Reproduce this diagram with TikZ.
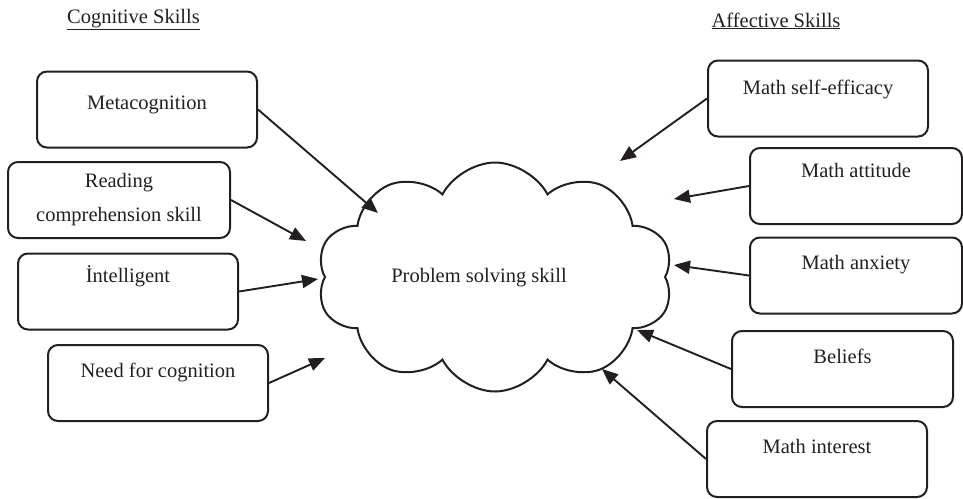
\documentclass[tikz,border=0pt]{standalone}
\usepackage{fontspec}
\setmainfont{Liberation Serif}
\usetikzlibrary{arrows.meta,shapes.symbols}
\definecolor{ink}{HTML}{231F20}
\tikzset{box/.style={draw=ink,line width=2pt,rounded corners=10pt,align=center,
  minimum width=220pt,minimum height=76pt,font=\fontsize{20.5}{24}\selectfont,
  text=ink,inner sep=2pt},
  oneline/.style={text height=15pt,text depth=27pt},
  head/.style={font=\fontsize{20.5}{24}\selectfont,text=ink,anchor=base},
  arrow/.style={-{Triangle[length=16pt,width=13pt]},line width=1.9pt,draw=ink}}

\begin{document}
\begin{tikzpicture}[x=1pt,y=-1pt]
\useasboundingbox (0,0) rectangle (963,498);
\node[head] (cog) at (133.5,23) {\underline{Cognitive Skills}};
\node[head] (aff) at (776,27) {\underline{Affective Skills}};
% the cloud in the middle
\node[cloud,draw=ink,line width=2pt,cloud puffs=10,cloud puff arc=125,
  minimum width=356pt,minimum height=229pt,inner sep=0pt] (cloud) at (495,277) {};
\node[head] (pss) at (479,282) {Problem solving skill};
% cognitive side
\node[box,oneline,text depth=16pt] (meta) at (147,109.5) {Metacognition};
\node[box,minimum width=222pt] (read) at (119,200) {Reading\\[10pt]comprehension skill};
\node[box,oneline,text depth=34pt] (intel) at (128,291.5) {İntelligent};
\node[box,oneline] (need) at (158,383) {Need for cognition};
% affective side
\node[box,oneline,text depth=24pt] (self) at (818,98.5) {Math self-efficacy};
\node[box,oneline,text depth=33pt,minimum width=212pt] (att) at (856,186) {Math attitude};
\node[box,oneline,minimum width=212pt] (anx) at (856,275.5) {Math anxiety};
\node[box,oneline,minimum width=221pt] (bel) at (842.5,369) {Beliefs};
\node[box,oneline] (inte) at (817,459) {Math interest};
% arrow tips near the cloud
\coordinate (tmeta) at (378,213);
\coordinate (tread) at (306,241);
\coordinate (tintel) at (318,279);
\coordinate (tneed) at (325,358);
\coordinate (tself) at (620,161);
\coordinate (tatt) at (674,199);
\coordinate (tanx) at (674,265);
\coordinate (tbel) at (637,330);
\coordinate (tinte) at (602,369);
\draw[arrow] (meta.east)--(tmeta);\draw[arrow] (read.east)--(tread);
\draw[arrow] (intel.east)--(tintel);\draw[arrow] (need.east)--(tneed);
\draw[arrow] (self.west)--(tself);\draw[arrow] (att.west)--(tatt);
\draw[arrow] (anx.west)--(tanx);\draw[arrow] (bel.west)--(tbel);
\draw[arrow] (inte.west)--(tinte);
\end{tikzpicture}
\end{document}
